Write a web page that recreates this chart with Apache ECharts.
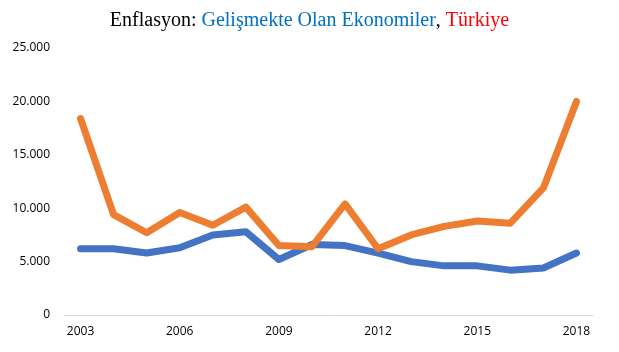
<!DOCTYPE html>
<html>
<head>
<meta charset="utf-8">
<script src="https://cdn.jsdelivr.net/npm/echarts@6/dist/echarts.min.js"></script>
<style>
  html, body { margin: 0; padding: 0; background: #fff; }
  #chart { width: 619px; height: 352px; }
</style>
</head>
<body>
<div id="chart"></div>
<script>
// years on the x axis
const years = ['2003', '2004', '2005', '2006', '2007', '2008', '2009', '2010',
  '2011', '2012', '2013', '2014', '2015', '2016', '2017', '2018'];
// Gelişmekte Olan Ekonomiler
const emerging = [6200, 6200, 5800, 6300, 7500, 7800, 5200, 6600,
  6500, 5800, 5000, 4600, 4600, 4200, 4400, 5800];
// Türkiye
const turkey = [18400, 9400, 7700, 9600, 8400, 10100, 6500, 6400,
  10400, 6200, 7500, 8300, 8800, 8600, 11900, 20000];

const myChart = echarts.init(document.getElementById('chart'));

// 25000 -> "25.000"
const fmt = v => v === 0 ? '0' : String(v).replace(/\B(?=(\d{3})+(?!\d))/g, '.');

const titleFont = { fontFamily: 'Liberation Serif', fontSize: 20, fontWeight: 'normal' };

const options = {
  animation: false,
  title: {
    text: '{k|Enflasyon: }{b|Gelişmekte Olan Ekonomiler}{k|, }{r|Türkiye}',
    left: 'center',
    top: 6,
    textStyle: {
      fontWeight: 'normal',
      rich: {
        k: { ...titleFont, color: '#000000' },
        b: { ...titleFont, color: '#0070C0' },
        r: { ...titleFont, color: '#FF0000' }
      }
    }
  },
  grid: {
    left: 64,
    right: 26,
    top: 48,
    bottom: 37
  },
  xAxis: {
    type: 'category',
    data: years,
    boundaryGap: true,
    axisLine: { lineStyle: { color: '#d9d9d9', width: 1 } },
    axisTick: { show: false },
    axisLabel: {
      interval: 2,
      color: '#000000',
      fontFamily: 'Open Sans',
      fontSize: 12,
      margin: 11
    }
  },
  yAxis: {
    type: 'value',
    min: 0,
    max: 25000,
    interval: 5000,
    axisLine: { show: false },
    axisTick: { show: false },
    splitLine: { show: false },
    axisLabel: {
      formatter: fmt,
      color: '#000000',
      fontFamily: 'Open Sans',
      fontSize: 12,
      margin: 14
    }
  },
  series: [
    {
      name: 'Gelişmekte Olan Ekonomiler',
      type: 'line',
      data: emerging,
      symbol: 'none',
      lineStyle: { color: '#4472C4', width: 7, cap: 'round', join: 'round' },
      itemStyle: { color: '#4472C4' }
    },
    {
      name: 'Türkiye',
      type: 'line',
      data: turkey,
      symbol: 'none',
      lineStyle: { color: '#ED7D31', width: 7, cap: 'round', join: 'round' },
      itemStyle: { color: '#ED7D31' }
    }
  ]
};

myChart.setOption(options);
</script>
</body>
</html>
